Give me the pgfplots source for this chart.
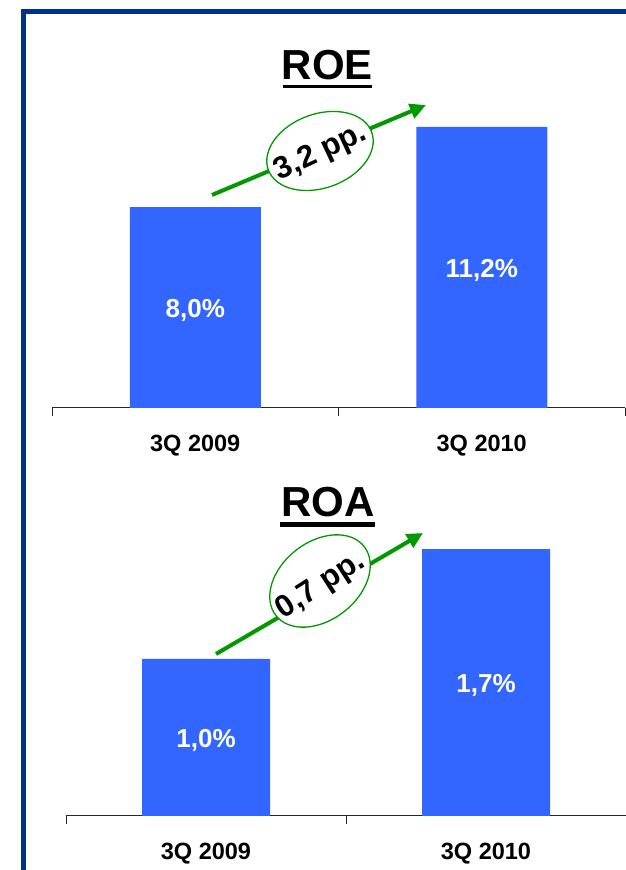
\documentclass[border=0pt]{standalone}
\usepackage{pgfplots}
\pgfplotsset{compat=1.18}
\usepackage{fontspec}
\setmainfont{Liberation Sans}
\usetikzlibrary{arrows.meta}

\definecolor{barblue}{RGB}{51,102,255}
\definecolor{arrgreen}{RGB}{0,153,0}
\definecolor{frameblue}{RGB}{0,48,135}

\pgfplotsset{
  kpi/.style={
    scale only axis,
    anchor=south west,
    xmin=-0.5, xmax=1.5, ymin=0,
    axis x line*=bottom,
    axis y line=none,
    xtick={-0.5,0.5,1.5},
    xticklabels={},
    tick align=outside,
    major tick length=8pt,
    x axis line style={line width=1pt, black!85},
    xtick style={line width=1pt, black!85},
    extra x ticks={0,1},
    extra x tick labels={3Q 2009,3Q 2010},
    extra x tick style={major tick length=0pt,
      tick label style={font=\fontsize{23.5}{26}\selectfont\bfseries,
        anchor=center, yshift=-38pt}},
    clip=false,
  },
  vallabel/.style={draw=none, mark=none, nodes near coords,
    point meta=explicit symbolic,
    nodes near coords style={anchor=center, text=white, yshift=-3pt,
      font=\fontsize{26}{28}\selectfont\bfseries}},
}

\begin{document}
\begin{tikzpicture}[x=1pt,y=1pt]
\path[use as bounding box] (0pt,0pt) rectangle (626pt,870pt);
\draw[frameblue, line width=5pt] (23pt,0pt) -- (23pt,858pt) -- (626pt,858pt);

% ROE
\begin{axis}[kpi, at={(52pt,462pt)}, width=573pt, height=401.6pt, ymax=16]
  \addplot[ybar, bar width=131pt, bar shift=0pt, fill=barblue, draw=none]
    coordinates {(0,8.0) (1,11.2)};
  \addplot[vallabel] coordinates {(0,4.0) [8,0\%] (1,5.6) [11,2\%]};
\end{axis}
\node[font=\fontsize{42}{48}\selectfont\bfseries, anchor=base] at (327.5pt,790pt) {ROE};
\draw[line width=3.8pt] (283pt,783.5pt) -- (372pt,783.5pt);
\draw[arrgreen, line width=4pt, -{Triangle[length=16pt,width=15pt]}] (212pt,675pt) -- (426pt,765pt);
\draw[arrgreen, fill=white, line width=1.3pt, rotate around={20:(320pt,719pt)}] (320pt,719pt) ellipse (55pt and 37pt);
\node[rotate=25, font=\fontsize{31}{33}\selectfont\bfseries] at (321pt,717pt) {3,2 pp.};

% ROA
\begin{axis}[kpi, at={(66pt,54pt)}, width=560pt, height=392.5pt, ymax=2.5]
  \addplot[ybar, bar width=128pt, bar shift=0pt, fill=barblue, draw=none]
    coordinates {(0,1.0) (1,1.7)};
  \addplot[vallabel] coordinates {(0,0.5) [1,0\%] (1,0.85) [1,7\%]};
\end{axis}
\node[font=\fontsize{42}{48}\selectfont\bfseries, anchor=base] at (328pt,353pt) {ROA};
\draw[line width=4.2pt] (280pt,345.5pt) -- (375pt,345.5pt);
\draw[arrgreen, line width=4pt, -{Triangle[length=16pt,width=15pt]}] (216pt,216pt) -- (423pt,337pt);
\draw[arrgreen, fill=white, line width=1.3pt, rotate around={38:(320pt,289pt)}] (320pt,289pt) ellipse (56pt and 39pt);
\node[rotate=33, font=\fontsize{31}{33}\selectfont\bfseries] at (321pt,284pt) {0,7 pp.};
\end{tikzpicture}
\end{document}
